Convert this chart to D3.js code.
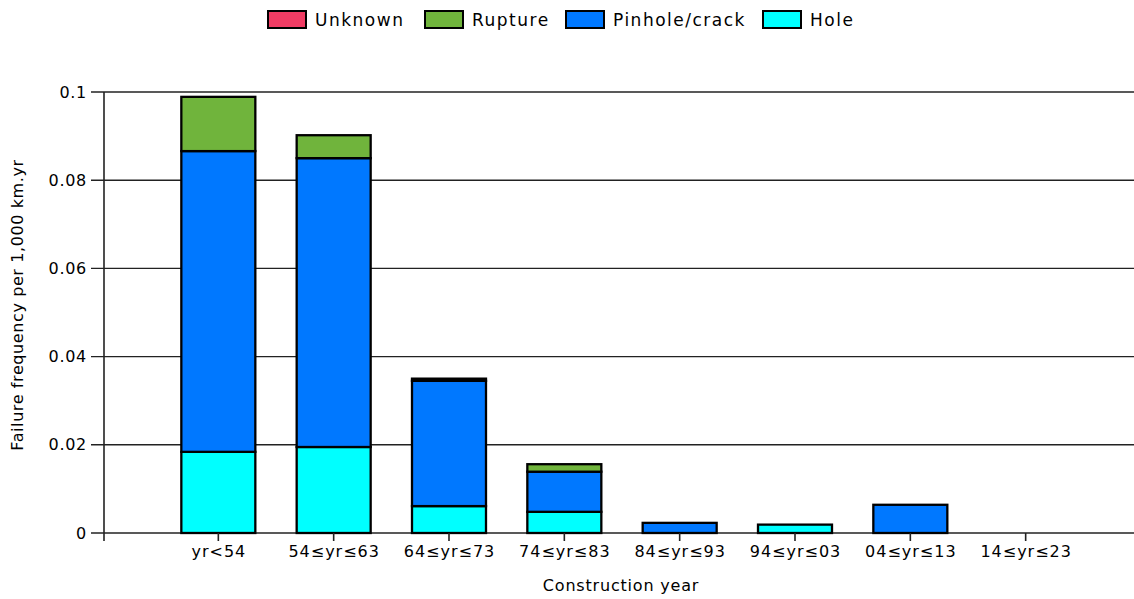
<!DOCTYPE html>
<html><head><meta charset="utf-8">
<script src="https://cdn.jsdelivr.net/npm/d3@7"></script>
<style>
html,body{margin:0;padding:0;background:#fff;}
text{font-family:"DejaVu Sans",Verdana,sans-serif;fill:#000;}
</style></head>
<body><svg id="c" width="1134" height="599"></svg>
<script>
const categories = ["yr<54","54≤yr≤63","64≤yr≤73","74≤yr≤83","84≤yr≤93","94≤yr≤03","04≤yr≤13","14≤yr≤23"];
const hole     = [0.0184, 0.0195, 0.0061, 0.0048, 0,      0.0019, 0,      0];
const pinhole  = [0.0682, 0.0655, 0.0284, 0.0091, 0.0023, 0,      0.0064, 0];
const rupture  = [0.0123, 0.0052, 0.0005, 0.0017, 0,      0,      0,      0];
const unknown  = [0,      0,      0,      0,      0,      0,      0,      0];
const seriesNames = ["Unknown","Rupture","Pinhole/crack","Hole"];
const seriesColors = ["#f03c64","#70b43c","#0078ff","#00ffff"];
const yTicks = [0, 0.02, 0.04, 0.06, 0.08, 0.1];
const yTickLabels = ["0","0.02","0.04","0.06","0.08","0.1"];

const svg = d3.select("#c");
const x = d3.scaleLinear().domain([0, 9]).range([103, 1141]);
const y = d3.scaleLinear().domain([0, 0.1]).range([533, 92]);
const barW = 74;

// gridlines
const g = svg.append("g");
g.selectAll("line.grid").data(yTicks).enter().append("line")
  .attr("x1", 91).attr("x2", 1134)
  .attr("y1", d => y(d)).attr("y2", d => y(d))
  .attr("stroke", "#222").attr("stroke-width", 1.4);
g.selectAll("text.yt").data(yTicks).enter().append("text")
  .attr("x", 87).attr("y", d => y(d)).attr("dy", "0.35em")
  .attr("text-anchor", "end").attr("font-size", 16).attr("letter-spacing", 0.7)
  .text((d, i) => yTickLabels[i]);
// y axis line
g.append("line").attr("x1", 104).attr("x2", 104).attr("y1", y(0.1)).attr("y2", 541)
  .attr("stroke", "#222").attr("stroke-width", 1.6);

// stacked bars
const stackOrder = [hole, pinhole, rupture, unknown];
const stackColors = ["#00ffff","#0078ff","#70b43c","#f03c64"];
const bars = svg.append("g");
categories.forEach((c, i) => {
  let base = 0;
  stackOrder.forEach((arr, s) => {
    const v = arr[i];
    if (v > 0) {
      bars.append("rect")
        .attr("x", x(i + 1) - barW / 2)
        .attr("width", barW)
        .attr("y", y(base + v))
        .attr("height", y(base) - y(base + v))
        .attr("fill", stackColors[s])
        .attr("stroke", "#000").attr("stroke-width", 2.3);
    }
    base += v;
  });
});

// x ticks and labels
const xg = svg.append("g");
categories.forEach((c, i) => {
  xg.append("line").attr("x1", x(i + 1)).attr("x2", x(i + 1))
    .attr("y1", 533).attr("y2", 541).attr("stroke", "#222").attr("stroke-width", 1.6);
  xg.append("text").attr("x", x(i + 1) + 0.5).attr("y", 557)
    .attr("text-anchor", "middle").attr("font-size", 16).attr("letter-spacing", 1)
    .text(c);
});

// axis titles
svg.append("text").attr("x", 621).attr("y", 591).attr("text-anchor", "middle")
  .attr("font-size", 16).attr("letter-spacing", 0.8).text("Construction year");
svg.append("text").attr("transform", "translate(23,305) rotate(-90)")
  .attr("text-anchor", "middle").attr("font-size", 16).attr("letter-spacing", 0.6)
  .text("Failure frequency per 1,000 km.yr");

// legend
const legendX = [268, 425, 566, 763];
const lg = svg.append("g");
seriesNames.forEach((n, i) => {
  lg.append("rect").attr("x", legendX[i]).attr("y", 11).attr("width", 38).attr("height", 17)
    .attr("fill", seriesColors[i]).attr("stroke", "#000").attr("stroke-width", 2);
  lg.append("text").attr("x", legendX[i] + 47).attr("y", 20).attr("dy", "0.35em")
    .attr("font-size", 17).attr("letter-spacing", 1.5).text(n);
});
</script></body></html>
